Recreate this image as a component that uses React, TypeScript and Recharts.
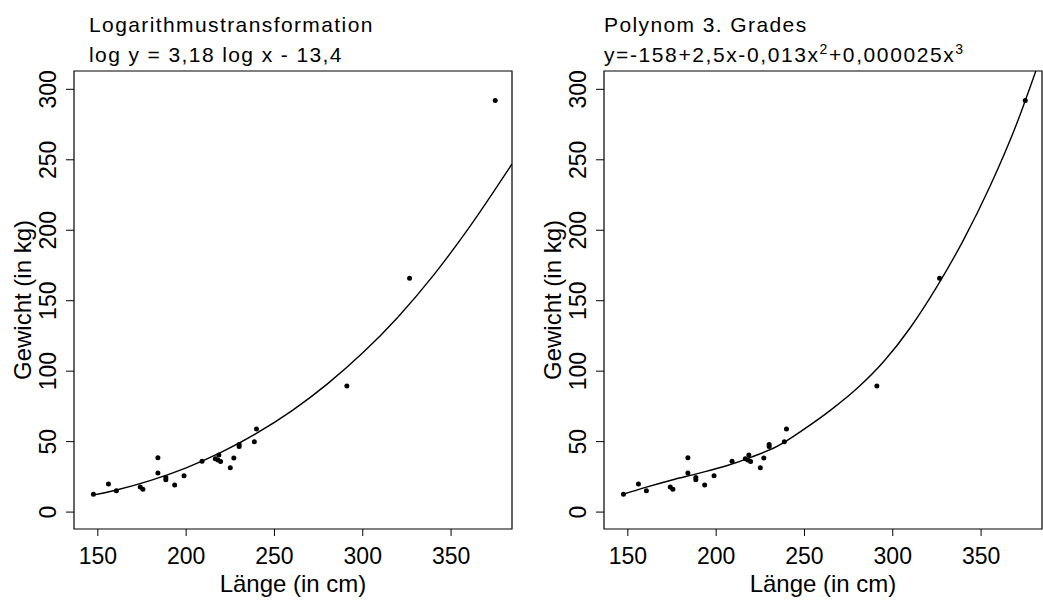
import React from "react";
import {
  ComposedChart,
  Line,
  Scatter,
  XAxis,
  YAxis,
  ReferenceArea
} from "recharts";

// Länge (cm) / Gewicht (kg) der Messungen
const laenge = [
  147.5, 156, 160.5, 174, 175.5, 184, 184, 188.5, 188.5, 193.5, 198.8, 209,
  216.5, 218, 218.5, 219.5, 225, 227, 230, 230, 238.6, 239.8, 291, 326.5, 375
];
const gewicht = [
  12.6, 20, 15.2, 17.8, 16.2, 38.5, 27.7, 24.5, 23, 19.2, 25.8, 36, 37.9, 37,
  40.5, 35.9, 31.5, 38.3, 48, 46.5, 50, 59, 89.5, 166, 292
];

// Kurve der Logarithmustransformation
const logKurveX = [147, 160, 180, 200, 220, 240, 260, 280, 300, 320, 340, 360, 384.5];
const logKurveY = [12, 15.5, 22.5, 31.4, 42.5, 56, 72, 91, 113, 138.5, 168, 201.5, 247];

// Kurve Polynom 3. Grades
const polyKurveX = [147, 160, 175, 190, 205, 220, 235, 250, 265, 280, 295, 310, 325, 340, 355, 370, 381];
const polyKurveY = [12.5, 17.5, 22.8, 27.5, 32.5, 39, 47, 59, 72.5, 88, 107, 131, 160, 193, 231, 275, 313];

const xTicks = [150, 200, 250, 300, 350];
const yTicks = [0, 50, 100, 150, 200, 250, 300];
const xDomain: [number, number] = [136.5, 384.5];
const yDomain: [number, number] = [-12, 313];

const FONT = "'Liberation Sans', Arial, Helvetica, sans-serif";

const punkte = laenge.map((x, i) => ({ x, y: gewicht[i] }));
const logKurve = logKurveX.map((x, i) => ({ x, y: logKurveY[i] }));
const polyKurve = polyKurveX.map((x, i) => ({ x, y: polyKurveY[i] }));

const XTick = (props: any) => (
  <text
    x={props.x}
    y={props.y + 26}
    textAnchor="middle"
    fontFamily={FONT}
    fontSize={23}
    fill="#000"
  >
    {props.payload.value}
  </text>
);

const YTick = (props: any) => {
  const x = props.x - 8;
  return (
    <text
      x={x}
      y={props.y}
      transform={`rotate(-90, ${x}, ${props.y})`}
      textAnchor="middle"
      fontFamily={FONT}
      fontSize={23}
      fill="#000"
    >
      {props.payload.value}
    </text>
  );
};

const Dot = (props: any) => <circle cx={props.cx} cy={props.cy} r={2.5} fill="#000" />;

function Panel({ kurve, width }: { kurve: { x: number; y: number }[]; width: number }) {
  return (
    <ComposedChart
      width={width}
      height={600}
      margin={{ top: 71, right: width - 512, left: 0, bottom: 0 }}
    >
      <XAxis
        dataKey="x"
        type="number"
        domain={xDomain}
        ticks={xTicks}
        allowDataOverflow
        axisLine={false}
        tickSize={7}
        tickLine={{ stroke: "#000" }}
        tick={XTick}
        height={71}
        label={{
          content: (p: any) => (
            <text
              x={p.viewBox.x + p.viewBox.width / 2}
              y={p.viewBox.y + 63}
              textAnchor="middle"
              fontFamily={FONT}
              fontSize={24}
              fill="#000"
            >
              Länge (in cm)
            </text>
          )
        }}
      />
      <YAxis
        type="number"
        domain={yDomain}
        ticks={yTicks}
        allowDataOverflow
        axisLine={false}
        tickSize={8}
        tickLine={{ stroke: "#000" }}
        tick={YTick}
        width={74}
        label={{
          content: (p: any) => {
            const cx = 31;
            const cy = p.viewBox.y + p.viewBox.height / 2;
            return (
              <text
                x={cx}
                y={cy}
                transform={`rotate(-90, ${cx}, ${cy})`}
                textAnchor="middle"
                fontFamily={FONT}
                fontSize={24}
                fill="#000"
              >
                Gewicht (in kg)
              </text>
            );
          }
        }}
      />
      <ReferenceArea
        x1={xDomain[0]}
        x2={xDomain[1]}
        y1={yDomain[0]}
        y2={yDomain[1]}
        fill="none"
        stroke="#000"
        strokeWidth={1.2}
        ifOverflow="visible"
      />
      <Line
        data={kurve}
        dataKey="y"
        type="monotone"
        stroke="#000"
        strokeWidth={1.4}
        dot={false}
        activeDot={false}
        isAnimationActive={false}
      />
      <Scatter data={punkte} dataKey="y" shape={Dot} isAnimationActive={false} />
    </ComposedChart>
  );
}

const titelStil: React.CSSProperties = {
  position: "absolute",
  fontFamily: FONT,
  fontSize: 21,
  letterSpacing: 1.4,
  color: "#000",
  whiteSpace: "nowrap",
  lineHeight: "21px"
};

export default function App() {
  return (
    <div
      style={{
        position: "fixed",
        left: 0,
        top: 0,
        width: 1043,
        height: 600,
        background: "#fff",
        overflow: "hidden"
      }}
    >
      <div style={{ position: "absolute", left: 0, top: 0 }}>
        <Panel kurve={logKurve} width={516} />
      </div>
      <div style={{ position: "absolute", left: 530, top: 0 }}>
        <Panel kurve={polyKurve} width={514} />
      </div>
      <div style={{ ...titelStil, left: 89, top: 14 }}>Logarithmustransformation</div>
      <div style={{ ...titelStil, left: 89, top: 44 }}>log y = 3,18 log x - 13,4</div>
      <div style={{ ...titelStil, left: 604, top: 14 }}>Polynom 3. Grades</div>
      <div style={{ ...titelStil, left: 604, top: 44, letterSpacing: 1.6 }}>
        y=-158+2,5x-0,013x
        <sup style={{ fontSize: 14, lineHeight: 0 }}>2</sup>
        +0,000025x
        <sup style={{ fontSize: 14, lineHeight: 0 }}>3</sup>
      </div>
    </div>
  );
}
